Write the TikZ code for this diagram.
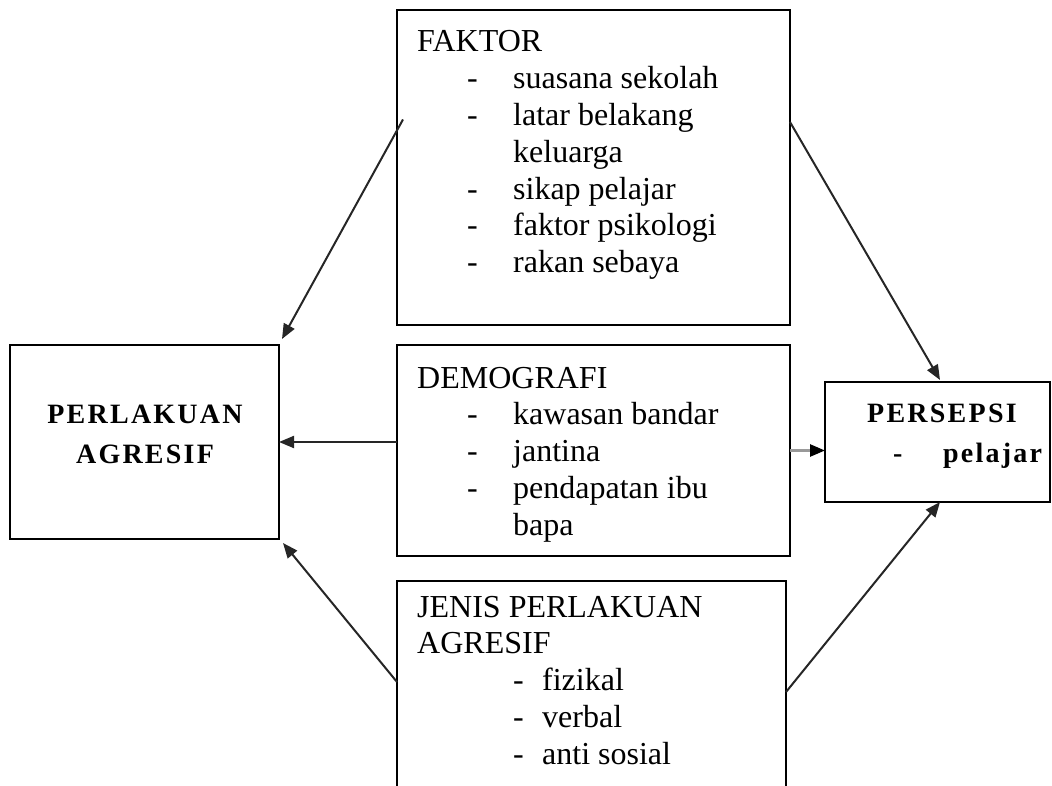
\documentclass[tikz,border=0pt]{standalone}
\usepackage{fontspec}
\setmainfont{Liberation Serif}
\usetikzlibrary{arrows.meta}

\begin{document}
\begin{tikzpicture}[x=1pt, y=-1pt, >={Triangle[length=15pt,width=12pt]}]
    \tikzset{box/.style={draw, line width=2pt, outer sep=0pt, inner sep=0pt},
        txt/.style={anchor=base west, inner sep=0pt, font=\fontsize{32}{36.8}\selectfont},
        bold/.style={inner sep=0pt, font=\fontsize{28}{40}\selectfont\bfseries\addfontfeature{LetterSpace=8}},
        link/.style={->, line width=2pt, draw=black!85}}

    \useasboundingbox (0,0) rectangle (1052,786);
    \clip (0,0) rectangle (1052,786);

    % boxes
    \node[box, minimum width=393pt, minimum height=315pt] (faktor) at (593.5,167.5) {};
    \node[box, minimum width=393pt, minimum height=211pt] (demog) at (593.5,450.5) {};
    \node[box, minimum width=389pt, minimum height=249pt] (jenis) at (591.5,705.5) {};
    \node[box, minimum width=269pt, minimum height=194pt] (perlakuan) at (144.5,442) {};
    \node[box, minimum width=225pt, minimum height=120pt] (persepsi) at (937.5,442) {};

    % texts
    \node[txt] (faktortxt) at (417,52) {\begin{tabular}[t]{@{\hspace{50pt}}p{46pt}@{}l@{}}
        \multicolumn{2}{@{}l@{}}{FAKTOR}\\
        - & suasana sekolah\\
        - & latar belakang\\
          & keluarga\\
        - & sikap pelajar\\
        - & faktor psikologi\\
        - & rakan sebaya
    \end{tabular}};
    \node[txt] (demogtxt) at (417,388) {\begin{tabular}[t]{@{\hspace{50pt}}p{46pt}@{}l@{}}
        \multicolumn{2}{@{}l@{}}{DEMOGRAFI}\\
        - & kawasan bandar\\
        - & jantina\\
        - & pendapatan ibu\\
          & bapa
    \end{tabular}};
    \node[txt] (jenistxt) at (417,617) {\begin{tabular}[t]{@{\hspace{96pt}}p{29pt}@{}l@{}}
        \multicolumn{2}{@{}l@{}}{JENIS PERLAKUAN}\\
        \multicolumn{2}{@{}l@{}}{AGRESIF}\\
        - & fizikal\\
        - & verbal\\
        - & anti sosial
    \end{tabular}};
    \node[bold, anchor=base] (perlakuantxt) at (145,423) {\begin{tabular}[t]{@{}c@{}}
        PERLAKUAN\\AGRESIF
    \end{tabular}};
    \node[bold, anchor=base west] (persepsitxt) at (867,422) {\begin{tabular}[t]{@{\hspace{26pt}}p{50pt}@{}l@{}}
        \multicolumn{2}{@{}l@{}}{PERSEPSI}\\
        - & pelajar
    \end{tabular}};

    % arrows
    \draw[link] ([xshift=6pt,yshift=48pt]faktor.west) -- ([xshift=3pt,yshift=6pt]perlakuan.north east);
    \draw[link] (demog.west |- perlakuan.east) -- (perlakuan.east);
    \draw[link] ([yshift=23.5pt]jenis.west) -- ([xshift=4pt,yshift=-4pt]perlakuan.south east);
    \draw[link] ([yshift=45.5pt]faktor.east) -- ([xshift=2.5pt,yshift=2pt]persepsi.north);
    \draw[-{Triangle[length=15pt,width=12pt,color=black]}, line width=2.6pt, draw=black!40]
        (demog.east) -- (demog.east -| persepsi.west);
    \draw[link] ([yshift=13.5pt]jenis.east) -- ([xshift=2.5pt]persepsi.south);
\end{tikzpicture}
\end{document}
